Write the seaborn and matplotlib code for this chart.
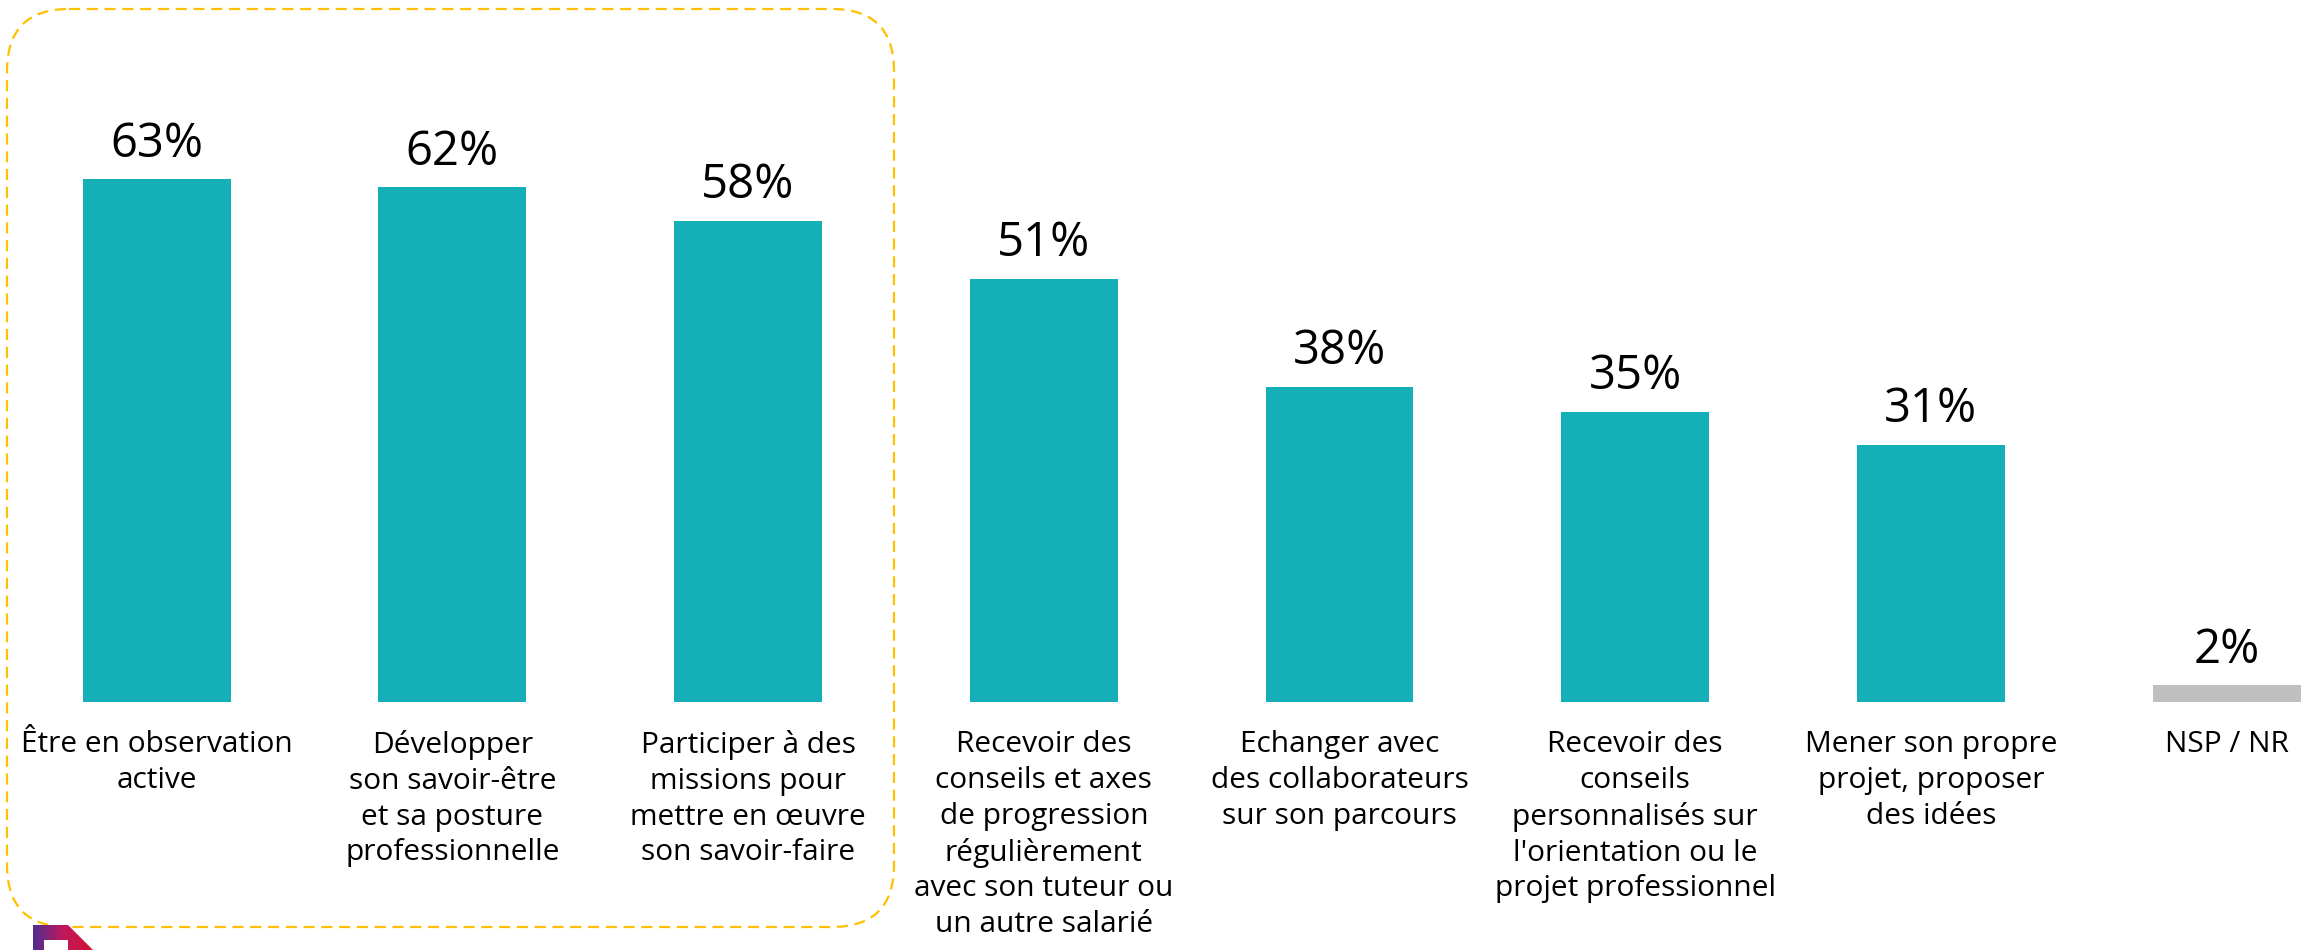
import numpy as np
import matplotlib
matplotlib.use("Agg")
import matplotlib.pyplot as plt
import matplotlib.patches as mpatches
import seaborn as sns

# Survey answers (share of respondents, %)
categories = [
    "Être en observation\nactive",
    "Développer\nson savoir-être\net sa posture\nprofessionnelle",
    "Participer à des\nmissions pour\nmettre en œuvre\nson savoir-faire",
    "Recevoir des\nconseils et axes\nde progression\nrégulièrement\navec son tuteur ou\nun autre salarié",
    "Echanger avec\ndes collaborateurs\nsur son parcours",
    "Recevoir des\nconseils\npersonnalisés sur\nl'orientation ou le\nprojet professionnel",
    "Mener son propre\nprojet, proposer\ndes idées",
    "NSP / NR",
]
values = [63, 62, 58, 51, 38, 35, 31, 2]
value_labels = [f"{v}%" for v in values]

TEAL = "#14AFB7"
GREY = "#BFBFBF"
bar_colors = [TEAL] * 7 + [GREY]

sns.set_theme(style="white")
plt.rcParams["font.family"] = ["Open Sans", "DejaVu Sans"]

W, H = 2318, 950
fig = plt.figure(figsize=(W / 100, H / 100), dpi=100)
fig.patch.set_facecolor("white")

# main bar axes: baseline 702 px from the top
ax = fig.add_axes([0, 248 / H, 1, 702 / H])
df_x = list(range(len(values)))
sns.barplot(x=df_x, y=values, hue=df_x, palette=bar_colors, legend=False,
            width=0.5, saturation=1, ax=ax, linewidth=0)
ax.set_xlim(-0.53, 7.309)
ax.set_ylim(0, 702 / 8.3)
ax.set_facecolor("none")
for s in ax.spines.values():
    s.set_visible(False)
ax.set_yticks([])
ax.set_ylabel("")
ax.set_xticks(range(len(categories)))
ax.set_xticklabels(categories, fontsize=21.5, linespacing=1.30, color="black")
ax.tick_params(axis="x", length=0, pad=20.5)

for bar, lab in zip(ax.patches, value_labels):
    ax.annotate(lab, (bar.get_x() + bar.get_width() / 2, bar.get_height()),
                xytext=(0, 16), textcoords="offset points",
                ha="center", va="baseline", fontsize=34, color="black")

# overlay in pixel units for the highlight frame and the corner logo
ov = fig.add_axes([0, 0, 1, 1], zorder=5)
ov.set_xlim(0, W)
ov.set_ylim(H, 0)
ov.axis("off")
ov.patch.set_alpha(0)

frame = mpatches.FancyBboxPatch((7, 9), 887, 918,
                                boxstyle="round,pad=0,rounding_size=62",
                                fill=False, edgecolor="#FFC000", linewidth=1.6,
                                linestyle=(0, (5, 3)))
ov.add_patch(frame)

logo = mpatches.Polygon([(33, 925), (68, 925), (95, 952), (33, 952)],
                        closed=True, facecolor="none", edgecolor="none")
ov.add_patch(logo)
grad = np.linspace(0, 1, 64)[None, :] * np.ones((16, 1))
cmap = matplotlib.colors.LinearSegmentedColormap.from_list("lg", ["#4F2D8F", "#C2185B", "#D3122E"])
img = ov.imshow(grad, extent=(33, 95, 952, 925), cmap=cmap, aspect="auto", zorder=6)
img.set_clip_path(logo)
ov.add_patch(mpatches.Rectangle((44, 940), 24, 14, facecolor="white", edgecolor="none", zorder=7))
ov.set_xlim(0, W)
ov.set_ylim(H, 0)

fig.savefig("out.png", dpi=100, facecolor="white")
